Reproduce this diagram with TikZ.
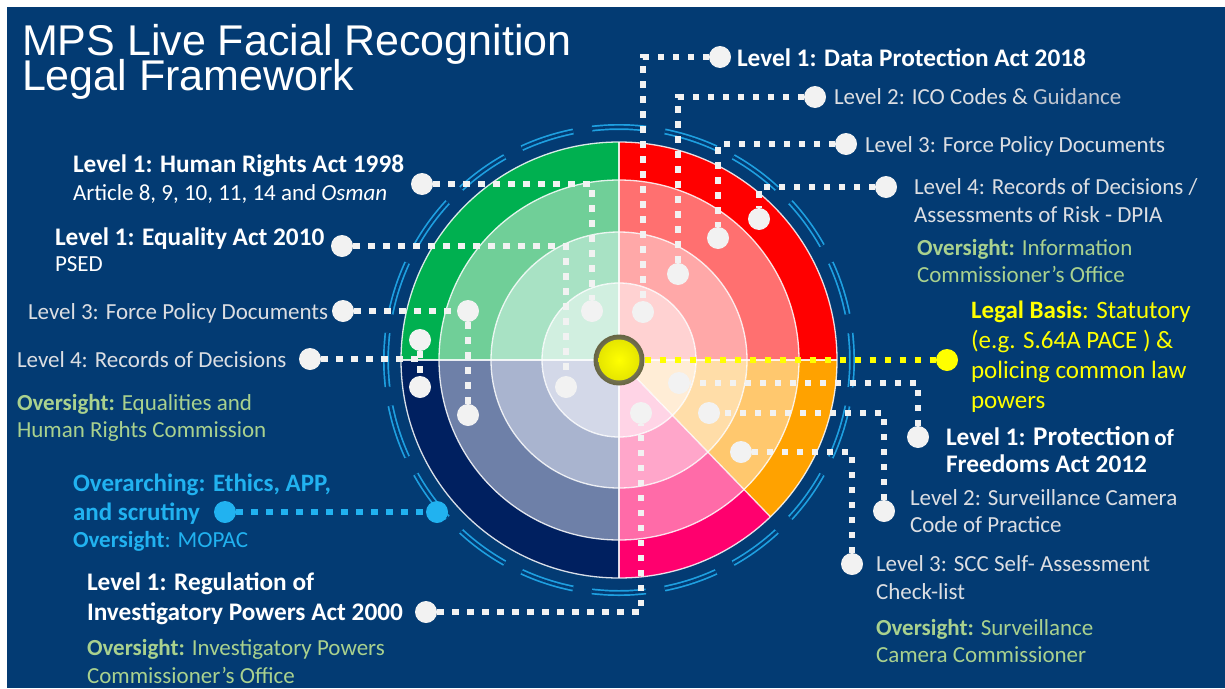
\documentclass[tikz,border=0pt]{standalone}
\usepackage{fontspec}
\setmainfont{Carlito}
\newfontfamily\titlefont{Liberation Sans}

% palette
\definecolor{bg}{RGB}{3,59,115}
\definecolor{dotwhite}{RGB}{242,242,242}
\definecolor{txtgrey}{RGB}{220,222,226}
\definecolor{guidegrey}{RGB}{192,197,207}
\definecolor{ovgreen}{RGB}{169,209,142}
\definecolor{skyblue}{RGB}{33,178,240}
\definecolor{ringblue}{RGB}{30,160,225}
\definecolor{basisyellow}{RGB}{255,255,0}
\definecolor{knobrim}{RGB}{128,126,84}
% sector tints, outer ring to inner disc
\definecolor{gA}{RGB}{0,176,80}    \definecolor{gB}{RGB}{112,207,152}
\definecolor{gC}{RGB}{168,226,196} \definecolor{gD}{RGB}{209,239,224}
\definecolor{rA}{RGB}{255,0,0}     \definecolor{rB}{RGB}{255,112,112}
\definecolor{rC}{RGB}{255,168,168} \definecolor{rD}{RGB}{255,210,210}
\definecolor{nA}{RGB}{0,32,96}     \definecolor{nB}{RGB}{110,128,168}
\definecolor{nC}{RGB}{169,180,207} \definecolor{nD}{RGB}{211,216,232}
\definecolor{oA}{RGB}{255,162,0}   \definecolor{oB}{RGB}{255,200,110}
\definecolor{oC}{RGB}{255,221,168} \definecolor{oD}{RGB}{255,237,214}
\definecolor{pA}{RGB}{255,0,110}   \definecolor{pB}{RGB}{255,107,168}
\definecolor{pC}{RGB}{255,166,202} \definecolor{pD}{RGB}{255,212,230}

% one wedge of the target: #1,#2 angles, #3..#6 colours from outside in
\newcommand\wedgeset[6]{%
  \fill[#3] (#1:218pt) arc[start angle=#1,end angle=#2,radius=218pt]
     -- (#2:180pt) arc[start angle=#2,end angle=#1,radius=180pt] -- cycle;
  \fill[#4] (#1:180pt) arc[start angle=#1,end angle=#2,radius=180pt]
     -- (#2:128pt) arc[start angle=#2,end angle=#1,radius=128pt] -- cycle;
  \fill[#5] (#1:128pt) arc[start angle=#1,end angle=#2,radius=128pt]
     -- (#2:77pt) arc[start angle=#2,end angle=#1,radius=77pt] -- cycle;
  \fill[#6] (0pt,0pt) -- (#1:77pt) arc[start angle=#1,end angle=#2,radius=77pt] -- cycle;}

\begin{document}
\begin{tikzpicture}[x=1pt,y=-1pt,
  lbl/.style={anchor=base west,inner sep=0pt,outer sep=0pt},
  boldw/.style={lbl,text=white,font=\fontsize{25.3}{30}\selectfont\bfseries},
  regw/.style={lbl,text=white,font=\fontsize{23}{28}\selectfont},
  regg/.style={lbl,text=txtgrey,font=\fontsize{23}{28}\selectfont},
  overs/.style={lbl,text=ovgreen,font=\fontsize{23}{28}\selectfont},
  bluebold/.style={lbl,text=skyblue,font=\fontsize{25}{30}\selectfont\bfseries},
  bluereg/.style={lbl,text=skyblue,font=\fontsize{23}{28}\selectfont},
  yel/.style={lbl,text=basisyellow,font=\fontsize{25}{30}\selectfont},
  titletxt/.style={anchor=north west,align=left,inner sep=0pt,outer sep=0pt,text=white,
                   font={\titlefont\fontsize{43}{35}\selectfont\lineskiplimit=-30pt}},
  wdot/.style={circle,fill=dotwhite,minimum size=22pt,inner sep=0pt,outer sep=0pt},
  bdot/.style={wdot,fill=skyblue},
  ydot/.style={wdot,fill=basisyellow},
  dotline/.style={draw=dotwhite,line width=6.5pt,dash pattern=on 6.5pt off 8.5pt},
  ringline/.style={draw=white,line width=1.3pt,opacity=0.85},
]
\useasboundingbox (0,0) rectangle (1225,688);
\fill[white] (0,0) rectangle (1225,688);
\fill[bg] (7,7) rectangle (1225,688);

% ---- title
\node[titletxt] (title) at (22,24.5) {MPS Live Facial Recognition\\Legal Framework};

% ---- target
\begin{scope}[shift={(619,360)}]
  \draw[ringblue,line width=1.7pt,double=bg,double distance=2.6pt,
        dash pattern=on 54pt off 19.2pt,dash phase=27pt] (0pt,0pt) circle[radius=233pt];
  \wedgeset{90}{180}{gA}{gB}{gC}{gD}
  \wedgeset{0}{90}{rA}{rB}{rC}{rD}
  \wedgeset{180}{270}{nA}{nB}{nC}{nD}
  \wedgeset{-46}{0}{oA}{oB}{oC}{oD}
  \wedgeset{-90}{-46}{pA}{pB}{pC}{pD}
  \foreach \r in {77,128,180,218} \draw[ringline] (0pt,0pt) circle[radius=\r pt];
  \draw[ringline] (90:218pt) -- (270:218pt);
  \draw[ringline] (180:218pt) -- (0:218pt);
  \draw[ringline] (0pt,0pt) -- (-46:218pt);
\end{scope}

% ---- left labels
\node[boldw] (hra1) at (73,172) {Level 1: Human Rights Act 1998};
\node[regw]  (hra2) at (73,200) {Article 8, 9, 10, 11, 14 and \textit{Osman}};
\node[boldw] (eq1) at (55,245) {Level 1: Equality Act 2010};
\node[regw]  (eq2) at (55,271) {PSED};
\node[regg]  (lf3) at (28,319) {Level 3: Force Policy Documents};
\node[regg]  (lr4) at (17,367) {Level 4: Records of Decisions};
\node[overs] (ov1a) at (17,410) {\textbf{Oversight:} Equalities and};
\node[overs] (ov1b) at (17,437) {Human Rights Commission};
\node[bluebold] (oa1) at (73,491) {Overarching: Ethics, APP,};
\node[bluebold] (oa2) at (73,520) {and scrutiny};
\node[bluereg]  (oa3) at (73,547) {\textbf{Oversight}: MOPAC};
\node[boldw] (rip1) at (87,590) {Level 1: Regulation of};
\node[boldw] (rip2) at (87,620) {Investigatory Powers Act 2000};
\node[overs] (ov2a) at (87,655) {\textbf{Oversight:} Investigatory Powers};
\node[overs] (ov2b) at (87,683) {Commissioner's Office};

% ---- right labels
\node[boldw] (dpa) at (737,66) {Level 1: Data Protection Act 2018};
\node[regg]  (ico) at (834,104) {Level 2: ICO Codes \& {\color{guidegrey}Guidance}};
\node[regg]  (rf3) at (865,152) {Level 3: Force Policy Documents};
\node[regg]  (rr4a) at (914,194) {Level 4: Records of Decisions /};
\node[regg]  (rr4b) at (914,222) {Assessments of Risk - DPIA};
\node[overs] (ov3a) at (917,255) {\textbf{Oversight:} Information};
\node[overs] (ov3b) at (917,282) {Commissioner's Office};
\node[yel] (lb1) at (971,318) {\textbf{Legal Basis}: Statutory};
\node[yel] (lb2) at (971,348) {(e.g. S.64A PACE ) \&};
\node[yel] (lb3) at (971,378) {policing common law};
\node[yel] (lb4) at (971,408) {powers};
\node[boldw] (pf1) at (946,445) {Level 1: {\fontsize{27}{30}\selectfont Protection}\,{\fontsize{23}{28}\selectfont of}};
\node[boldw] (pf2) at (946,472) {Freedoms Act 2012};
\node[regg]  (sc1) at (910,505) {Level 2: Surveillance Camera};
\node[regg]  (sc2) at (910,532) {Code of Practice};
\node[regg]  (scc1) at (876,571) {Level 3: SCC Self- Assessment};
\node[regg]  (scc2) at (876,599) {Check-list};
\node[overs] (ov4a) at (876,635) {\textbf{Oversight:} Surveillance};
\node[overs] (ov4b) at (876,662) {Camera Commissioner};

% ---- dots
\node[wdot] (hraD) at (422,184) {};  \node[wdot] (g1D) at (592,311) {};
\node[wdot] (eqD)  at (342,246) {};  \node[wdot] (n1D) at (566,387) {};
\node[wdot] (lf3D) at (343,311) {};  \node[wdot] (g3D) at (468,311) {};
\node[wdot] (n3D)  at (468,415) {};
\node[wdot] (lr4D) at (310,359) {};  \node[wdot] (g4D) at (420,340) {};
\node[wdot] (n4D)  at (420,387) {};  \coordinate (j4) at (420,359);
\node[bdot] (oaD)  at (225,512) {};  \node[bdot] (ringD) at (437,512) {};
\node[wdot] (ripD) at (426,612) {};  \node[wdot] (p1D) at (641,413) {};
\node[wdot] (dpaD) at (720,57) {};   \node[wdot] (r1D) at (643,312) {};
\node[wdot] (icoD) at (815,97) {};   \node[wdot] (r2D) at (678,274) {};
\node[wdot] (rf3D) at (846,144) {};  \node[wdot] (r3D) at (718,238) {};
\node[wdot] (rr4D) at (886,187) {};  \node[wdot] (r4D) at (759,219) {};
\node[ydot] (lbD)  at (947,360) {};
\node[wdot] (pfD)  at (918,437) {};  \node[wdot] (o1D) at (679,383) {};
\node[wdot] (scD)  at (884,511) {};  \node[wdot] (o2D) at (709,413) {};
\node[wdot] (sccD) at (852,564) {};  \node[wdot] (o3D) at (741,452) {};

% ---- centre knob
\node[circle,inner color=knobrim!70!white,outer color=knobrim!80!black,
      minimum size=51pt,inner sep=0pt] (centre) at (619,360) {};
\node[circle,inner color=basisyellow,outer color=basisyellow!90!black,
      minimum size=41pt,inner sep=0pt] (centreIn) at (centre) {};

% ---- connectors
\draw[dotline] (hraD) -| (g1D);
\draw[dotline] (eqD) -| (n1D);
\draw[dotline] (lf3D) -- (g3D);
\draw[dotline] (g3D) -- (n3D);
\draw[dotline] (lr4D) -- (j4);
\draw[dotline] (g4D) -- (n4D);
\draw[dotline,draw=skyblue] (oaD) -- (ringD);
\draw[dotline] (ripD) -| (p1D);
\draw[dotline] (dpaD) -| (r1D);
\draw[dotline] (icoD) -| (r2D);
\draw[dotline] (rf3D) -| (r3D);
\draw[dotline] (rr4D) -| (r4D);
\draw[dotline,draw=basisyellow] (centre) -- (lbD);
\draw[dotline] (pfD) |- (o1D);
\draw[dotline] (scD) |- (o2D);
\draw[dotline] (sccD) |- (o3D);
\end{tikzpicture}
\end{document}
